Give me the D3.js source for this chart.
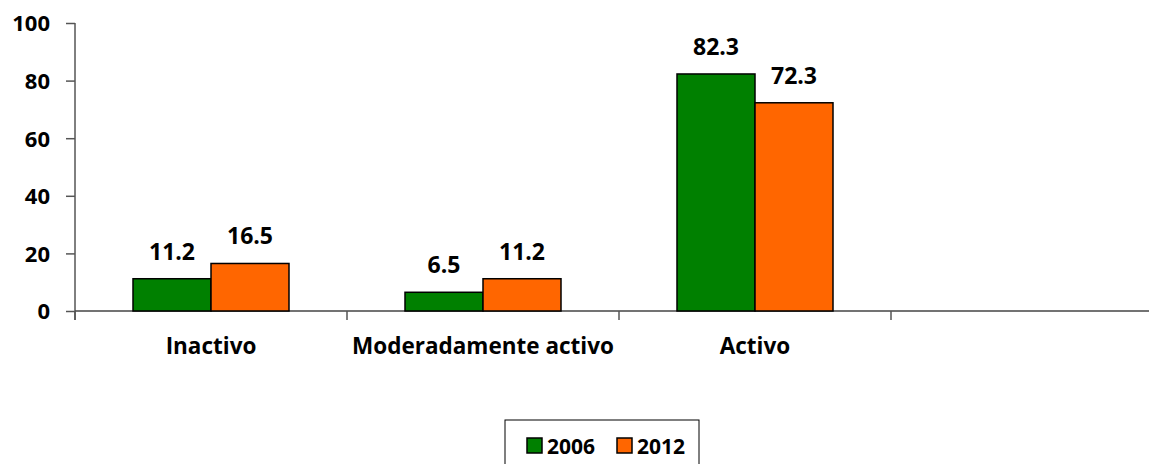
<!DOCTYPE html>
<html>
<head>
<meta charset="utf-8">
<script src="https://cdn.jsdelivr.net/npm/d3@7"></script>
<style>
  body { margin: 0; background: #fff; }
  text { font-family: "Open Sans", Lato, sans-serif; font-weight: bold; fill: #000; }
</style>
</head>
<body>
<script>
const categories = ["Inactivo", "Moderadamente activo", "Activo", ""];
const seriesNames = ["2006", "2012"];
const values2006 = [11.2, 6.5, 82.3, null];
const values2012 = [16.5, 11.2, 72.3, null];
const yTicks = [0, 20, 40, 60, 80, 100];

const COLORS = { "2006": "#008000", "2012": "#FF6600" };

const width = 1149;
const height = 464;
const margin = { top: 23, left: 75, bottom: 153 };

const svg = d3.select("body").append("svg")
  .attr("width", width)
  .attr("height", height);

const y = d3.scaleLinear().domain([0, 100]).range([311, 23]);

const x0 = d3.scaleBand()
  .domain(categories)
  .range([margin.left, margin.left + 272 * categories.length])
  .padding(0);

const x1 = d3.scaleBand()
  .domain(seriesNames)
  .range([58, x0.bandwidth() - 58]);

const rows = categories.map((c, i) => ({
  cat: c,
  vals: [
    { key: "2006", v: values2006[i] },
    { key: "2012", v: values2012[i] }
  ].filter(d => d.v != null)
}));

// y axis
const yAxis = svg.append("g")
  .attr("transform", `translate(${margin.left},0)`)
  .call(d3.axisLeft(y).tickValues(yTicks).tickSize(9).tickPadding(16));
yAxis.select(".domain").attr("stroke", "#000").attr("d", `M0,${y(100)}V${y(0) + 9}`);
yAxis.selectAll(".tick line").attr("stroke", "#555").attr("stroke-width", 1.5);
yAxis.selectAll(".tick text").style("font-size", "22px").attr("dy", "0.36em");

// x axis
const xAxis = svg.append("g")
  .attr("transform", `translate(0,${y(0)})`)
  .call(d3.axisBottom(x0).tickSize(0).tickPadding(0));
xAxis.select(".domain").attr("stroke", "#444").attr("stroke-width", 1.5)
  .attr("d", `M${margin.left},0H${width}`);
xAxis.selectAll(".tick text").attr("y", 43).attr("dy", 0).style("font-size", "22.5px");
xAxis.selectAll(".tick line").remove();
xAxis.selectAll(".sep")
  .data(categories.map(c => x0(c)).concat([x0(categories[categories.length - 1]) + x0.step()]))
  .join("line")
  .attr("class", "sep")
  .attr("x1", d => d).attr("x2", d => d)
  .attr("y1", 0).attr("y2", 9)
  .attr("stroke", "#555").attr("stroke-width", 1.5);

// bars
const groups = svg.append("g").selectAll("g")
  .data(rows)
  .join("g")
  .attr("transform", d => `translate(${x0(d.cat)},0)`);

groups.selectAll("rect")
  .data(d => d.vals)
  .join("rect")
  .attr("x", d => x1(d.key))
  .attr("y", d => y(d.v))
  .attr("width", x1.bandwidth())
  .attr("height", d => y(0) - y(d.v))
  .attr("fill", d => COLORS[d.key])
  .attr("stroke", "#000")
  .attr("stroke-width", 1.5);

groups.selectAll("text.lbl")
  .data(d => d.vals)
  .join("text")
  .attr("class", "lbl")
  .attr("x", d => x1(d.key) + x1.bandwidth() / 2)
  .attr("y", d => y(d.v) - 19)
  .attr("text-anchor", "middle")
  .style("font-size", "23px")
  .text(d => d.v.toFixed(1));

// legend
const legend = svg.append("g").attr("transform", "translate(505,420)");
legend.append("rect")
  .attr("width", 194).attr("height", 60)
  .attr("fill", "#fff").attr("stroke", "#000").attr("stroke-width", 1);
const items = legend.selectAll("g")
  .data(seriesNames)
  .join("g")
  .attr("transform", (d, i) => `translate(${22 + i * 90},18)`);
items.append("rect")
  .attr("width", 15).attr("height", 15)
  .attr("fill", d => COLORS[d])
  .attr("stroke", "#000").attr("stroke-width", 1.5);
items.append("text")
  .attr("x", 20).attr("y", 15.5)
  .style("font-size", "21px")
  .text(d => d);
</script>
</body>
</html>
